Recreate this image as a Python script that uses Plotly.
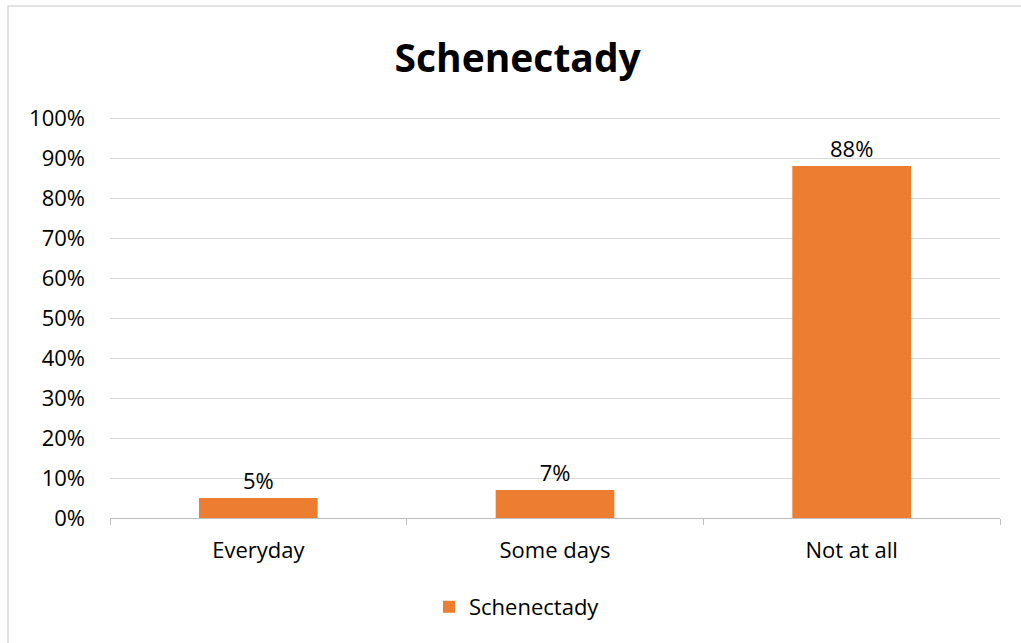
import plotly.graph_objects as go

categories = ["Everyday", "Some days", "Not at all"]
values = [0.05, 0.07, 0.88]
value_labels = ["5%", "7%", "88%"]
series_name = "Schenectady"
y_ticks = [i / 10 for i in range(11)]
y_tick_labels = [f"{i*10}%" for i in range(11)]

FONT = "Open Sans, sans-serif"

fig = go.Figure()
fig.add_trace(go.Bar(
    x=categories, y=values, name=series_name,
    marker=dict(color="#ED7D31", line=dict(width=0)),
    width=0.4,
    text=value_labels, textposition="outside",
    textfont=dict(size=22, color="#000000", family=FONT),
    cliponaxis=False,
))

# plot area: 0% at y=518 px, 100% at y=118 px; range extends 1% above 100%
fig.update_layout(
    width=1021, height=643,
    paper_bgcolor="white", plot_bgcolor="white",
    margin=dict(l=110, r=21, t=114, b=125),
    title=dict(text="<b>Schenectady</b>", x=0.507, xanchor="center", y=0.91, yanchor="middle",
               font=dict(size=39, family=FONT, color="#000000")),
    font=dict(family=FONT, size=22, color="#000000"),
    showlegend=True,
    legend=dict(orientation="h", x=(449 - 20 - 110) / 890, xanchor="left", y=-89 / 404, yanchor="middle",
                font=dict(size=22, family=FONT, color="#000000"),
                itemwidth=30),
    bargap=0.6,
)
fig.update_xaxes(
    showline=True, linecolor="#BFBFBF", linewidth=1,
    ticks="outside", tickson="boundaries", ticklen=6, tickcolor="#BFBFBF",
    tickfont=dict(size=22, family=FONT, color="#000000"),
    ticklabelstandoff=13,
    showgrid=False,
)
fig.update_yaxes(
    range=[0, 1.01], tickvals=y_ticks, ticktext=y_tick_labels,
    showgrid=True, gridcolor="#D9D9D9", gridwidth=1,
    showline=False, ticks="", zeroline=False,
    tickfont=dict(size=22, family=FONT, color="#000000"),
    ticklabelstandoff=24,
)
fig.add_shape(type="rect", xref="paper", yref="paper",
              x0=-102/890, x1=1.03, y0=-0.35, y1=(643-6-125)/404,
              line=dict(color="#D9D9D9", width=1.5), fillcolor="rgba(0,0,0,0)", layer="below")

fig.write_html("out.html", config={"displayModeBar": False},
               post_script="document.body.style.margin='0';")
